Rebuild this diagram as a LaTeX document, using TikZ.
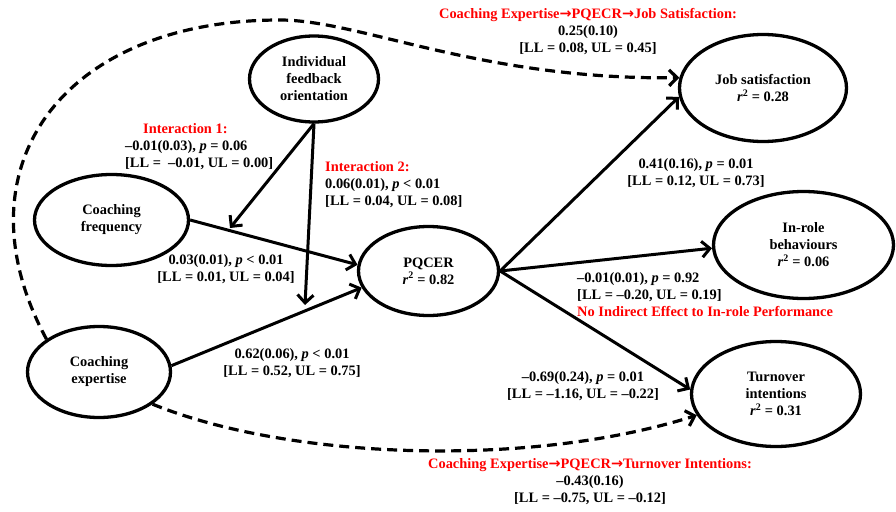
\documentclass[tikz,border=0pt]{standalone}
\usepackage{fontspec}
\setmainfont{Liberation Serif}
\newfontfamily\arrowfont{DejaVu Sans}
\newcommand{\rarr}{{\arrowfont\bfseries →}}
\usetikzlibrary{arrows.meta,shapes.geometric}
\begin{document}
\begin{tikzpicture}[x=1pt,y=-1pt,
  every node/.style={font=\bfseries\fontsize{14.4}{17}\selectfont, inner sep=0pt},
  ell/.style={draw, ellipse, line width=3.3pt, align=center},
  arr/.style={line width=3pt, -{Straight Barb[length=8pt,width=16pt]}},
  dasharr/.style={line width=3.2pt, dash pattern=on 10pt off 6pt, -{Straight Barb[length=8pt,width=16pt]}},
  lblc/.style={align=center},
  lbll/.style={align=left, anchor=west},
  redtxt/.style={text=red}
]
\useasboundingbox (0,0) rectangle (896,511);

% ellipses
\node[ell, minimum width=129pt, minimum height=86pt] (ifo) at (314,79) {Individual\\feedback\\orientation};
\node[ell, minimum width=154pt, minimum height=91pt] (cf) at (111.5,220) {Coaching\\frequency};
\node[ell, minimum width=143pt, minimum height=91pt] (ce) at (99,372) {Coaching\\expertise};
\node[ell, minimum width=140pt, minimum height=89pt] (pq) at (428.5,271) {PQCER\\\textit{r}\textsuperscript{2} = 0.82};
\node[ell, minimum width=167pt, minimum height=107pt] (js) at (763,88) {Job satisfaction\\\textit{r}\textsuperscript{2} = 0.28};
\node[ell, minimum width=180pt, minimum height=107pt] (ir) at (803.5,245) {In-role\\behaviours\\\textit{r}\textsuperscript{2} = 0.06};
\node[ell, minimum width=169pt, minimum height=105pt] (ti) at (776,394) {Turnover\\intentions\\\textit{r}\textsuperscript{2} = 0.31};

% moderation targets
\coordinate (m1) at (230,228);
\coordinate (m2) at (305,305);

% solid paths
\draw[arr] (cf.east) -- (pq.175);
\draw[arr] (ce.5) -- (pq.194);
\draw[arr] (ifo.south) -- (m1);
\draw[arr] (ifo.south) -- (m2);
\draw[arr] (pq.east) -- (js.186);
\draw[arr] (pq.east) -- (ir.182);
\draw[arr] (pq.east) -- (ti.177);

% dashed indirect paths
\draw[dasharr] (ce.148) .. controls (-45,170) and (60,20) .. (280,20)
  .. controls (360,20) and (480,80) .. (js.173);
\draw[dasharr] (ce.329) .. controls (290,460) and (530,468) .. (ti.195);

% labels
\node[lblc] (t1) at (588,32) {\textcolor{red}{Coaching Expertise\rarr PQECR\rarr Job Satisfaction:}\\0.25(0.10)\\{}[LL = 0.08, UL = 0.45]};
\node[lbll] (t2) at (125,147) {\hspace*{18pt}\textcolor{red}{Interaction 1:}\\–0.01(0.03), \textit{p} = 0.06\\{}[LL =\ \ –0.01, UL = 0.00]};
\node[lbll] (t3) at (325,185) {\textcolor{red}{Interaction 2:}\\0.06(0.01), \textit{p} < 0.01\\{}[LL = 0.04, UL = 0.08]};
\node[lblc] (t4) at (226,269) {0.03(0.01), \textit{p} < 0.01\\{}[LL = 0.01, UL = 0.04]};
\node[lblc] (t5) at (292,363.5) {0.62(0.06), \textit{p} < 0.01\\{}[LL = 0.52, UL = 0.75]};
\node[lblc] (t6) at (696,173.5) {0.41(0.16), \textit{p} = 0.01\\{}[LL = 0.12, UL = 0.73]};
\node[lbll] (t7) at (577,295) {–0.01(0.01), \textit{p} = 0.92\\{}[LL = –0.20, UL = 0.19]\\\textcolor{red}{No Indirect Effect to In-role Performance}};
\node[lblc] (t8) at (583,386.5) {–0.69(0.24), \textit{p} = 0.01\\{}[LL = –1.16, UL = –0.22]};
\node[lblc] (t9) at (590,482) {\textcolor{red}{Coaching Expertise\rarr PQECR\rarr Turnover Intentions:}\\–0.43(0.16)\\{}[LL = –0.75, UL = –0.12]};
\end{tikzpicture}
\end{document}
